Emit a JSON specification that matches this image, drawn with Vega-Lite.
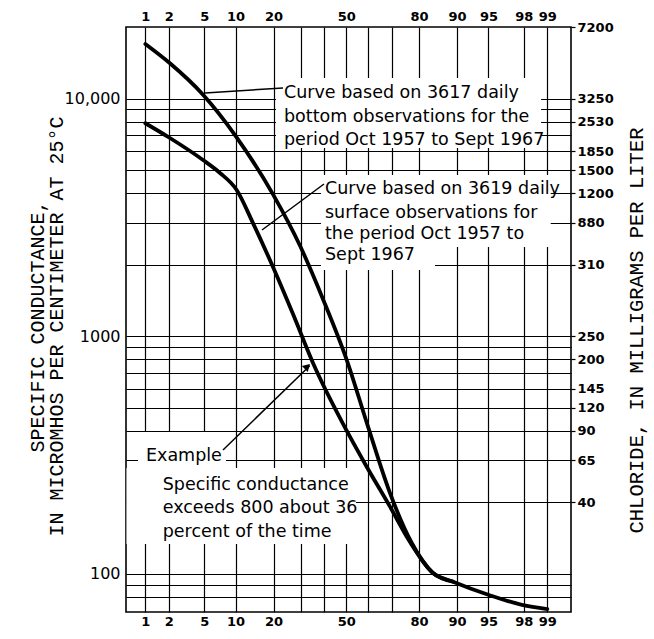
{
  "$schema": "https://vega.github.io/schema/vega-lite/v6.json",
  "width": 445,
  "height": 585,
  "autosize": {"type": "none"},
  "padding": {"left": 126, "top": 27, "right": 83, "bottom": 27},
  "background": "white",
  "config": {
    "view": {"stroke": "#000", "strokeWidth": 1.6},
    "axis": {
      "domain": false,
      "labelColor": "#000",
      "titleColor": "#000",
      "labelFont": "DejaVu Sans",
      "gridColor": "#000",
      "gridOpacity": 1,
      "gridWidth": 1.2,
      "tickColor": "#000",
      "labelOverlap": false,
      "labelFlush": false
    }
  },
  "datasets": {
    "curves": [
      {"series": "bottom", "p": 1.0, "v": 16960},
      {"series": "bottom", "p": 2.06, "v": 14070},
      {"series": "bottom", "p": 4.89, "v": 10350},
      {"series": "bottom", "p": 9.88, "v": 7020},
      {"series": "bottom", "p": 19.9, "v": 3930},
      {"series": "bottom", "p": 29.6, "v": 2400},
      {"series": "bottom", "p": 39.5, "v": 1420},
      {"series": "bottom", "p": 50.2, "v": 793},
      {"series": "bottom", "p": 59.9, "v": 416},
      {"series": "bottom", "p": 69.3, "v": 219},
      {"series": "bottom", "p": 77.5, "v": 135},
      {"series": "bottom", "p": 84.2, "v": 100.7},
      {"series": "bottom", "p": 89.15, "v": 92.6},
      {"series": "bottom", "p": 95.06, "v": 81.4},
      {"series": "bottom", "p": 97.9, "v": 73.9},
      {"series": "bottom", "p": 99.0, "v": 71},
      {"series": "surface", "p": 1.0, "v": 7870},
      {"series": "surface", "p": 2.06, "v": 6820},
      {"series": "surface", "p": 4.86, "v": 5510},
      {"series": "surface", "p": 7.18, "v": 4860},
      {"series": "surface", "p": 10.22, "v": 4120},
      {"series": "surface", "p": 14.0, "v": 2990},
      {"series": "surface", "p": 19.8, "v": 1954},
      {"series": "surface", "p": 26.85, "v": 1239},
      {"series": "surface", "p": 34.98, "v": 771},
      {"series": "surface", "p": 50.16, "v": 400},
      {"series": "surface", "p": 59.31, "v": 282},
      {"series": "surface", "p": 69.33, "v": 191.5},
      {"series": "surface", "p": 76.94, "v": 136},
      {"series": "surface", "p": 84.2, "v": 100.7},
      {"series": "surface", "p": 89.15, "v": 92.6}
    ],
    "boxes": [
      {"p1": 20.78, "p2": 98.79, "v1": 12204, "v2": 6190},
      {"p1": 38.46, "p2": 99.1, "v1": 4765, "v2": 2372},
      {"p1": 38.46, "p2": 84.76, "v1": 2450, "v2": 1898},
      {"p1": 0.795, "p2": 8.185, "v1": 395, "v2": 273.3},
      {"p1": 0.5476, "p2": 54.45, "v1": 278.6, "v2": 133.4}
    ],
    "leaders": [
      {"p1": 5.10, "v1": 10550, "p2": 23.17, "v2": 11076},
      {"p1": 16.45, "v1": 2796, "p2": 39.8, "v2": 4368},
      {"p1": 7.67, "v1": 331.6, "p2": 33.6, "v2": 750}
    ],
    "arrowheads": [
      {"p": 32.6, "v": 745}
    ],
    "notes": [
      {"p": 23.53, "v": 10051, "text": "Curve based on 3617 daily"},
      {"p": 23.53, "v": 7963, "text": "bottom observations for the"},
      {"p": 23.53, "v": 6374, "text": "period Oct 1957 to Sept 1967"},
      {"p": 40.25, "v": 3946, "text": "Curve based on 3619 daily"},
      {"p": 40.25, "v": 3142, "text": "surface observations for"},
      {"p": 40.25, "v": 2563, "text": "the period Oct 1957 to"},
      {"p": 40.25, "v": 2101, "text": "Sept 1967"},
      {"p": 1.02, "v": 296.7, "text": "Example"},
      {"p": 1.678, "v": 225.5, "text": "Specific conductance"},
      {"p": 1.678, "v": 179.8, "text": "exceeds 800 about 36"},
      {"p": 1.678, "v": 143.4, "text": "percent of the time"}
    ]
  },
  "layer": [
    {
      "data": {"name": "boxes"},
      "transform": [
        {"calculate": "quantileNormal(datum.p1 / 100)", "as": "z1"},
        {"calculate": "quantileNormal(datum.p2 / 100)", "as": "z2"}
      ],
      "mark": {"type": "rect", "fill": "white", "stroke": null},
      "encoding": {
        "x": {
          "field": "z1", "type": "quantitative",
          "scale": {"domain": [-2.55, 2.6], "nice": false, "zero": false},
          "axis": {
            "orient": "bottom",
            "values": [-2.3263, -2.0537, -1.6449, -1.2816, -0.8416, -0.5244, -0.2533, 0, 0.2533, 0.5244, 0.8416, 1.2816, 1.6449, 2.0537, 2.3263],
            "grid": true,
            "ticks": false,
            "labelExpr": "indexof([30, 40, 60, 70], round(cumulativeNormal(datum.value) * 100)) >= 0 ? '' : format(round(cumulativeNormal(datum.value) * 100), 'd')",
            "labelFontSize": 13,
            "labelFontWeight": "bold",
            "labelPadding": 3,
            "title": null
          }
        },
        "x2": {"field": "z2"},
        "y": {
          "field": "v1", "type": "quantitative",
          "scale": {"type": "log", "domain": [69, 20000], "nice": false},
          "axis": {
            "orient": "left",
            "values": [80, 90, 100, 200, 300, 400, 500, 600, 700, 800, 900, 1000, 2000, 3000, 4000, 5000, 6000, 7000, 8000, 9000, 10000],
            "grid": true,
            "ticks": false,
            "labelExpr": "datum.value == 10000 ? '10,000' : (datum.value == 1000 ? '1000' : (datum.value == 100 ? '100' : ''))",
            "labelFontSize": 16,
            "labelPadding": 6,
            "title": ["SPECIFIC CONDUCTANCE,", "IN MICROMHOS PER CENTIMETER AT 25°C"],
            "titleFont": "Liberation Mono",
            "titleFontSize": 20,
            "titleFontWeight": "normal",
            "titleAngle": 270,
            "titleAlign": "center",
            "titleBaseline": "top",
            "titleLineHeight": 19.5,
            "titleX": -99,
            "titleY": 299
          }
        },
        "y2": {"field": "v2"}
      }
    },
    {
      "data": {"name": "curves"},
      "transform": [
        {"calculate": "quantileNormal(datum.p / 100)", "as": "z"}
      ],
      "mark": {"type": "line", "color": "black", "strokeWidth": 3.8, "interpolate": "monotone", "strokeCap": "round"},
      "encoding": {
        "x": {
          "field": "z", "type": "quantitative",
          "scale": {"domain": [-2.55, 2.6], "nice": false, "zero": false},
          "axis": {
            "orient": "top",
            "values": [-2.3263, -2.0537, -1.6449, -1.2816, -0.8416, 0, 0.8416, 1.2816, 1.6449, 2.0537, 2.3263],
            "grid": false,
            "ticks": false,
            "labelExpr": "format(round(cumulativeNormal(datum.value) * 100), 'd')",
            "labelFontSize": 13,
            "labelFontWeight": "bold",
            "labelPadding": 4,
            "title": null
          }
        },
        "y": {
          "field": "v", "type": "quantitative",
          "scale": {"type": "log", "domain": [69, 20000], "nice": false},
          "axis": {
            "orient": "right",
            "values": [200, 300, 400, 500, 600, 800, 1000, 2000, 3000, 4000, 5000, 6000, 8000, 10000, 20000],
            "grid": false,
            "ticks": true,
            "tickSize": 4,
            "tickWidth": 1.2,
            "labelExpr": "({'200': '40', '300': '65', '400': '90', '500': '120', '600': '145', '800': '200', '1000': '250', '2000': '310', '3000': '880', '4000': '1200', '5000': '1500', '6000': '1850', '8000': '2530', '10000': '3250', '20000': '7200'})['' + datum.value]",
            "labelFontSize": 13,
            "labelFontWeight": "bold",
            "labelPadding": 2,
            "title": "CHLORIDE, IN MILLIGRAMS PER LITER",
            "titleFont": "Liberation Mono",
            "titleFontSize": 20.5,
            "titleFontWeight": "normal",
            "titleAngle": 270,
            "titleAlign": "center",
            "titleBaseline": "top",
            "titleX": 55,
            "titleY": 303
          }
        },
        "detail": {"field": "series", "type": "nominal"}
      }
    },
    {
      "data": {"name": "leaders"},
      "transform": [
        {"calculate": "quantileNormal(datum.p1 / 100)", "as": "z1"},
        {"calculate": "quantileNormal(datum.p2 / 100)", "as": "z2"}
      ],
      "mark": {"type": "rule", "color": "black", "strokeWidth": 1.5},
      "encoding": {
        "x": {"field": "z1", "type": "quantitative", "scale": {"domain": [-2.55, 2.6], "nice": false, "zero": false}, "axis": null},
        "x2": {"field": "z2"},
        "y": {"field": "v1", "type": "quantitative", "scale": {"type": "log", "domain": [69, 20000], "nice": false}, "axis": null},
        "y2": {"field": "v2"}
      }
    },
    {
      "data": {"name": "arrowheads"},
      "transform": [
        {"calculate": "quantileNormal(datum.p / 100)", "as": "z"}
      ],
      "mark": {"type": "point", "shape": "triangle-up", "filled": true, "color": "black", "opacity": 1, "size": 70, "angle": 45},
      "encoding": {
        "x": {"field": "z", "type": "quantitative", "scale": {"domain": [-2.55, 2.6], "nice": false, "zero": false}, "axis": null},
        "y": {"field": "v", "type": "quantitative", "scale": {"type": "log", "domain": [69, 20000], "nice": false}, "axis": null}
      }
    },
    {
      "data": {"name": "notes"},
      "transform": [
        {"calculate": "quantileNormal(datum.p / 100)", "as": "z"}
      ],
      "mark": {"type": "text", "align": "left", "baseline": "alphabetic", "font": "DejaVu Sans", "fontSize": 17.5, "color": "black"},
      "encoding": {
        "x": {"field": "z", "type": "quantitative", "scale": {"domain": [-2.55, 2.6], "nice": false, "zero": false}, "axis": null},
        "y": {"field": "v", "type": "quantitative", "scale": {"type": "log", "domain": [69, 20000], "nice": false}, "axis": null},
        "text": {"field": "text", "type": "nominal"}
      }
    }
  ],
  "resolve": {"axis": {"x": "independent", "y": "independent"}}
}
